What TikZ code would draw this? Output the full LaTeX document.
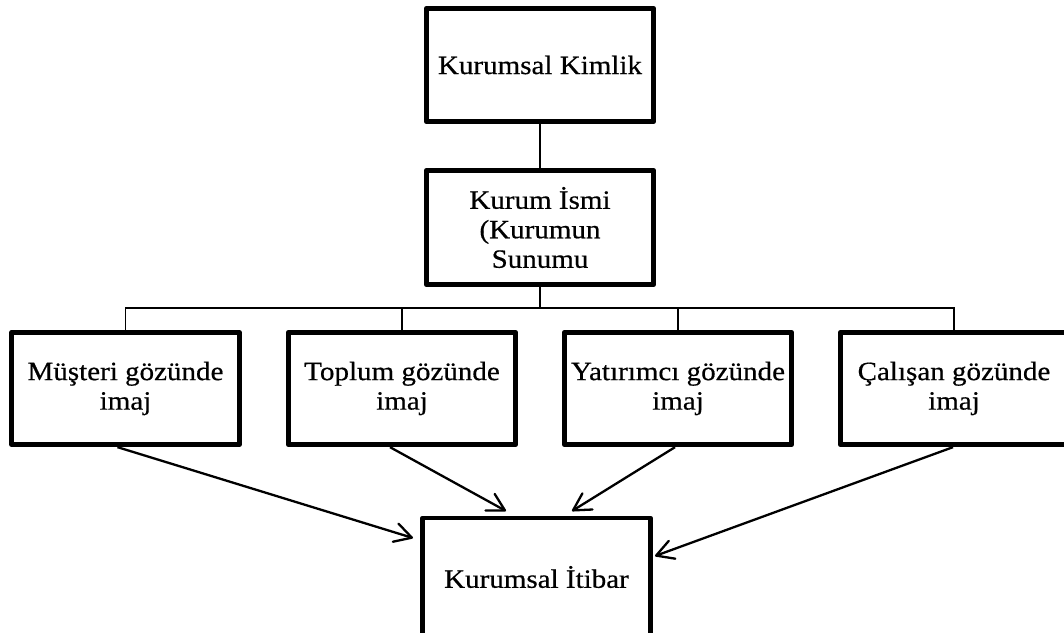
\documentclass[tikz,border=0pt]{standalone}
\usepackage{fontspec}
\setmainfont{Liberation Serif}[FakeStretch=1.1,FakeBold=0.5]
\usetikzlibrary{arrows.meta}
\begin{document}
\begin{tikzpicture}[x=1pt,y=-1pt,
  box/.style={draw, line width=4.8pt, line join=round, align=center,
    inner sep=0pt, minimum width=227.5pt, minimum height=112.5pt,
    font=\fontsize{26.4pt}{29.5pt}\selectfont},
  tree/.style={line width=1.9pt},
  flow/.style={line width=2.3pt,
    -{Straight Barb[length=17pt,width=19pt,round]}}]
  % page frame
  \useasboundingbox (0,0) rectangle (1064,632);
  \clip (0,0) rectangle (1064,632);

  % boxes
  \node[box, minimum height=113.5pt] (kimlik) at (540,65) {Kurumsal Kimlik};
  \node[box, minimum height=114.5pt] (isim) at (540,227.5) {Kurum İsmi\\(Kurumun\\Sunumu};
  \node[box] (musteri)   at (125.5,388.5) {Müşteri gözünde\\imaj};
  \node[box] (toplum)    at (402,388.5)   {Toplum gözünde\\imaj};
  \node[box] (yatirimci) at (678,388.5)   {Yatırımcı gözünde\\imaj};
  \node[box, minimum width=233.5pt] (calisan) at (957,388.5) {\hspace*{-6pt}Çalışan gözünde\\\hspace*{-6pt}imaj};
  \node[box, minimum height=118pt] (itibar) at (536.5,577) {Kurumsal İtibar};

  % tree lines
  \coordinate (bar) at (540,308);
  \draw[tree] (kimlik) -- (isim);
  \draw[tree] (isim.south) -- (bar);
  \draw[tree] (musteri.north) |- (bar) -| ([xshift=-3pt]calisan.north);
  \draw[tree] (toplum.north) -- (toplum.north |- bar);
  \draw[tree] (yatirimci.north) -- (yatirimci.north |- bar);

  % arrows into the reputation box
  \coordinate (t1) at (413,538);
  \coordinate (t2) at (506,511);
  \coordinate (t3) at (572,511);
  \coordinate (t4) at (655,556);
  \draw[flow] ([xshift=-8pt]musteri.south) -- (t1);
  \draw[flow] ([xshift=-12pt]toplum.south) -- (t2);
  \draw[flow] ([xshift=-3pt]yatirimci.south) -- (t3);
  \draw[flow] ([xshift=-4pt]calisan.south) -- (t4);
\end{tikzpicture}
\end{document}
